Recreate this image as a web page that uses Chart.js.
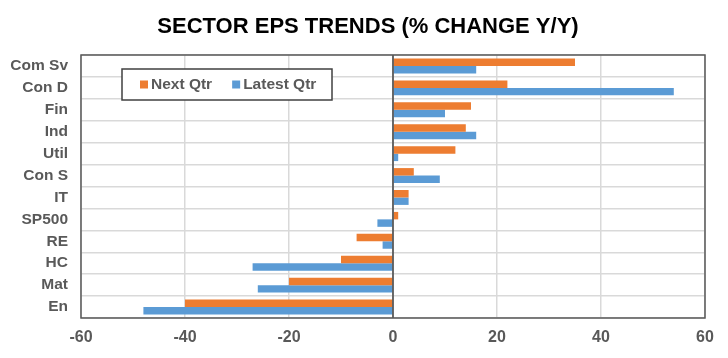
<!DOCTYPE html>
<html><head><meta charset="utf-8">
<script src="https://cdn.jsdelivr.net/npm/chart.js@4/dist/chart.umd.min.js"></script>
<style>html,body{margin:0;padding:0;background:#fff;}#wrap{width:728px;height:358px;}</style>
</head><body><div id="wrap"><canvas id="c" width="728" height="358"></canvas></div>
<script>
const categories = ["Com Sv","Con D","Fin","Ind","Util","Con S","IT","SP500","RE","HC","Mat","En"];
const nextQtr   = [35, 22, 15, 14, 12, 4, 3, 1, -7, -10, -20, -40];
const latestQtr = [16, 54, 10, 16, 1, 9, 3, -3, -2, -27, -26, -48];
const xTicks = [-60, -40, -20, 0, 20, 40, 60];
const seriesNames = ["Next Qtr", "Latest Qtr"];
const seriesColors = ["#ED7D31", "#5B9BD5"];
const titleText = "SECTOR EPS TRENDS (% CHANGE Y/Y)";
const labelColor = "#595959";
const FONT = "'Liberation Sans', Arial, sans-serif";

const frame = {
  id: 'frame',
  afterDatasetsDraw(chart) {
    const {ctx, chartArea: a, scales} = chart;
    ctx.save();
    // title
    ctx.font = "bold 22px " + FONT;
    ctx.fillStyle = '#000';
    ctx.textAlign = 'center';
    ctx.textBaseline = 'middle';
    ctx.fillText(titleText, 368, 26.5);
    ctx.textAlign = 'left';
    // zero line
    const x0 = scales.x.getPixelForValue(0);
    ctx.strokeStyle = '#404040'; ctx.lineWidth = 1.5;
    ctx.beginPath(); ctx.moveTo(x0, a.top); ctx.lineTo(x0, a.bottom); ctx.stroke();
    // frame
    ctx.strokeStyle = '#595959'; ctx.lineWidth = 1.5;
    ctx.strokeRect(a.left, a.top, a.right - a.left, a.bottom - a.top);
    // legend
    const lx = a.left + 41, ly = a.top + 14, lw = 210, lh = 31;
    ctx.fillStyle = '#fff'; ctx.fillRect(lx, ly, lw, lh);
    ctx.strokeStyle = '#404040'; ctx.lineWidth = 1.5;
    ctx.strokeRect(lx, ly, lw, lh);
    ctx.font = "bold 15.5px " + FONT;
    let x = lx + 18;
    const cy = ly + lh / 2;
    chart.data.datasets.forEach((ds, i) => {
      ctx.fillStyle = ds.backgroundColor;
      ctx.fillRect(x, cy - 4, 8, 8);
      x += 11;
      ctx.fillStyle = labelColor;
      ctx.fillText(ds.label, x, cy + 0.5);
      x += ctx.measureText(ds.label).width + 20;
    });
    ctx.restore();
  }
};

new Chart(document.getElementById('c'), {
  type: 'bar',
  data: {
    labels: categories,
    datasets: [
      {label: seriesNames[0], data: nextQtr, backgroundColor: seriesColors[0], categoryPercentage: 0.68, barPercentage: 1.0},
      {label: seriesNames[1], data: latestQtr, backgroundColor: seriesColors[1], categoryPercentage: 0.68, barPercentage: 1.0}
    ]
  },
  options: {
    indexAxis: 'y',
    responsive: false,
    animation: false,
    devicePixelRatio: 1,
    layout: {padding: {left: 0, right: 23, top: 55, bottom: 0}},
    plugins: {
      legend: {display: false},
      tooltip: {enabled: false},
      title: {display: false}
    },
    scales: {
      x: {
        min: -60, max: 60,
        afterBuildTicks: s => { s.ticks = xTicks.map(v => ({value: v})); },
        afterFit: s => { s.height = 40; },
        grid: {color: '#D9D9D9', lineWidth: 1.5, drawTicks: false},
        border: {display: false},
        ticks: {color: labelColor, font: {family: FONT, size: 16, weight: 'bold'}, padding: 10}
      },
      y: {
        afterFit: s => { s.width = 81; },
        grid: {color: '#D9D9D9', lineWidth: 1.5, drawTicks: false, offset: true},
        border: {display: false},
        ticks: {color: labelColor, font: {family: FONT, size: 15.5, weight: 'bold'}, padding: 13}
      }
    }
  },
  plugins: [frame]
});
</script></body></html>
